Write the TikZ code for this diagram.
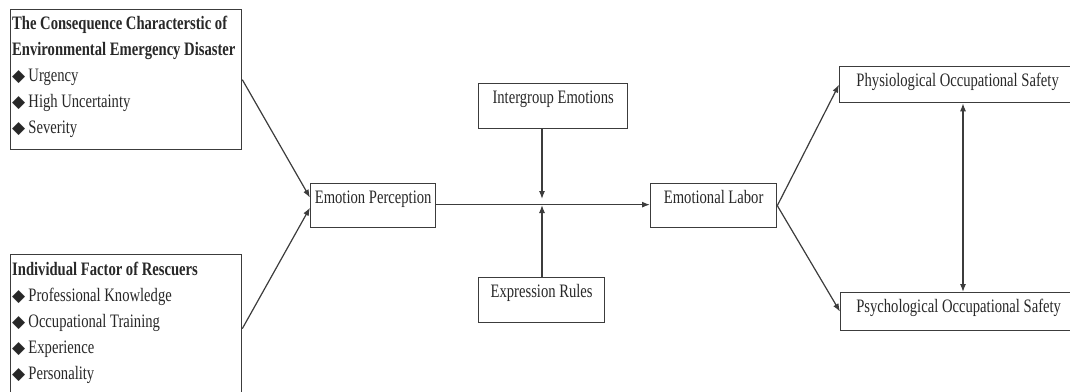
\documentclass[tikz,border=0pt]{standalone}
\usepackage{fontspec}
\setmainfont{Liberation Serif}[FakeStretch=0.77]
\newfontfamily\symfont{DejaVu Sans}
\usetikzlibrary{arrows.meta, positioning}
\definecolor{linegray}{RGB}{60,60,60}
\definecolor{textgray}{RGB}{40,40,40}
\newcommand{\bulletmark}{{\symfont\fontsize{17}{17}\selectfont ◆}\,}

\begin{document}
\begin{tikzpicture}[x=1pt, y=-1pt,
    every node/.style={font=\fontsize{19}{26}\selectfont, text=textgray},
    box/.style={draw=linegray, line width=1.3pt, anchor=north west, inner xsep=0pt, inner ysep=3pt, text height=17pt},
    bigbox/.style={draw=linegray, line width=1.3pt, anchor=north west, inner sep=0pt},
    arr/.style={-{Latex[length=8pt,width=6pt]}, draw=linegray, line width=1.2pt}]
    \useasboundingbox (0,0) rectangle (1070,391);

    % left-hand factor boxes
    \node[bigbox, minimum width=231pt, minimum height=140pt] (cons) at (10,9) {};
    \node[anchor=north west, align=left, inner sep=0pt] (consText) at (12,16)
        {\textbf{The Consequence Characterstic of}\\
         \textbf{Environmental Emergency Disaster}\\
         \bulletmark Urgency\\
         \bulletmark High Uncertainty\\
         \bulletmark Severity};

    \node[bigbox, minimum width=231pt, minimum height=148pt] (indiv) at (10,254) {};
    \node[anchor=north west, align=left, inner sep=0pt] (indivText) at (12,262)
        {\textbf{Individual Factor of Rescuers}\\
         \bulletmark Professional Knowledge\\
         \bulletmark Occupational Training\\
         \bulletmark Experience\\
         \bulletmark Personality};

    % middle chain
    \node[box, minimum width=125pt, text depth=21pt] (perc) at (310,183) {Emotion Perception};
    \node[box, minimum width=149pt, text depth=22pt] (inter) at (478,83) {Intergroup Emotions};
    \node[box, minimum width=126pt, text depth=22pt] (rules) at (478,277) {Expression Rules};
    \node[box, minimum width=126pt, text depth=21pt] (labor) at (650,183) {Emotional Labor};

    % outcomes
    \node[box, minimum width=236pt, text depth=13pt] (physio) at (839,66) {Physiological Occupational Safety};
    \node[box, minimum width=236pt, text depth=15pt] (psycho) at (840,292) {Psychological Occupational Safety};

    \coordinate (mod) at (542,204);
    \coordinate (link) at (963,200);

    \draw[arr] (cons.east) -- ([yshift=8pt]perc.west);
    \draw[arr] (indiv.east) -- ([yshift=-2pt]perc.west);
    \draw[arr] ([yshift=1pt]perc.east) -- ([yshift=1pt]labor.west);
    \draw[arr, shorten >=5pt] (inter.south -| mod) -- (mod);
    \draw[arr, shorten >=1pt] (rules.north -| mod) -- (mod);
    \draw[arr] (labor.east) -- (physio.west);
    \draw[arr] (labor.east) -- (psycho.west);
    \draw[arr, {Latex[length=8pt,width=6pt]}-{Latex[length=8pt,width=6pt]}] (physio.south -| link) -- (psycho.north -| link);
\end{tikzpicture}
\end{document}
